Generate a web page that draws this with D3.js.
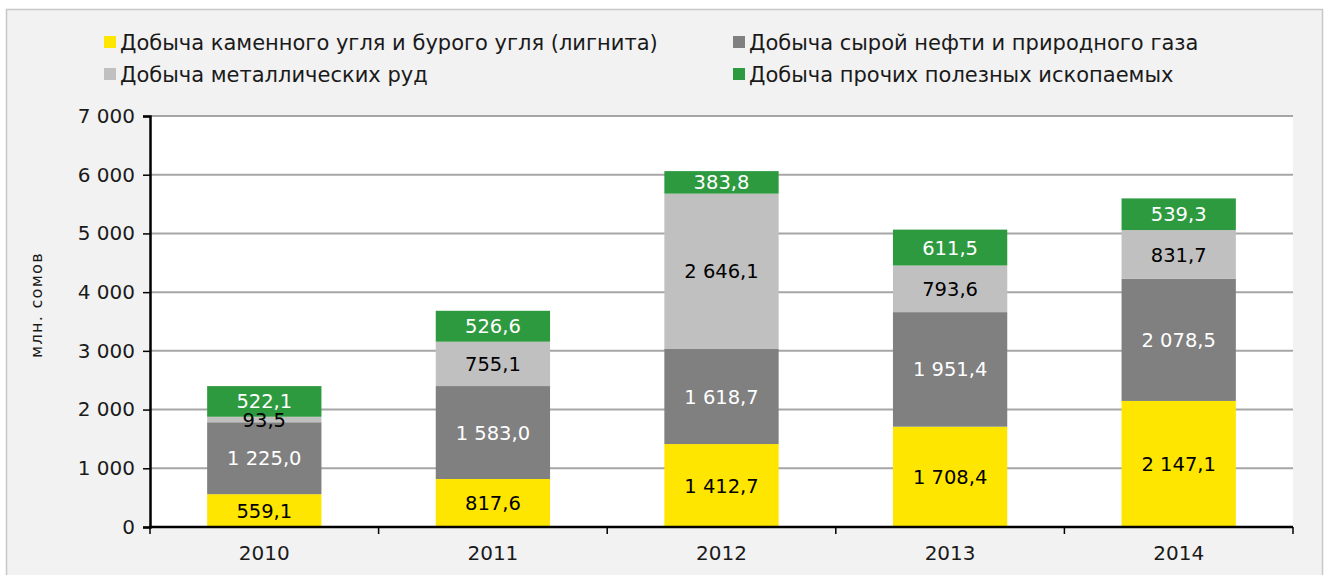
<!DOCTYPE html>
<html>
<head>
<meta charset="utf-8">
<script src="https://cdn.jsdelivr.net/npm/d3@7"></script>
<style>
  body { margin: 0; background: #fff; }
  svg { display: block; font-family: "DejaVu Sans", Verdana, sans-serif; }
</style>
</head>
<body>
<svg id="chart"></svg>
<script>
// data
const years = ["2010", "2011", "2012", "2013", "2014"];
const seriesNames = [
  "Добыча каменного угля и бурого угля (лигнита)",
  "Добыча сырой нефти и природного газа",
  "Добыча металлических руд",
  "Добыча прочих полезных ископаемых"
];
const coal = [559.1, 817.6, 1412.7, 1708.4, 2147.1];
const oilGas = [1225.0, 1583.0, 1618.7, 1951.4, 2078.5];
const metalOres = [93.5, 755.1, 2646.1, 793.6, 831.7];
const otherMinerals = [522.1, 526.6, 383.8, 611.5, 539.3];
const yTicks = [0, 1000, 2000, 3000, 4000, 5000, 6000, 7000];
const yLabel = "млн. сомов";

const colors = ["#ffe600", "#808080", "#c0c0c0", "#2e9a40"];
const labelColors = ["#000", "#fff", "#000", "#fff"];

const width = 1330, height = 575;
const margin = { top: 116, right: 37, bottom: 48, left: 150 };

const svg = d3.select("#chart")
  .attr("width", width)
  .attr("height", height);

// background and frame
svg.append("rect")
  .attr("width", width).attr("height", height)
  .attr("fill", "#fff");
svg.append("rect")
  .attr("x", 6.5).attr("y", 9.5)
  .attr("width", 1316).attr("height", 620)
  .attr("fill", "#f2f2f2")
  .attr("stroke", "#c8c8c8")
  .attr("stroke-width", 1.5);

const ru = d3.formatLocale({
  decimal: ",", thousands: "\u00a0", grouping: [3], currency: ["", ""]
});
const fmtTick = ru.format(",.0f");
const fmtVal = ru.format(",.1f");

const table = years.map((y, i) => ({
  year: y,
  s0: coal[i], s1: oilGas[i], s2: metalOres[i], s3: otherMinerals[i]
}));
const stacked = d3.stack().keys(["s0", "s1", "s2", "s3"])(table);

const x = d3.scaleBand()
  .domain(years)
  .range([margin.left, width - margin.right])
  .paddingInner(0.5)
  .paddingOuter(0.25);

const y = d3.scaleLinear()
  .domain([0, 7000])
  .range([height - margin.bottom, margin.top]);

// plot area
svg.append("rect")
  .attr("x", margin.left).attr("y", margin.top)
  .attr("width", width - margin.right - margin.left)
  .attr("height", y(0) - margin.top)
  .attr("fill", "#fff");

// gridlines
svg.append("g")
  .selectAll("line")
  .data(yTicks.filter(d => d > 0))
  .join("line")
    .attr("x1", margin.left).attr("x2", width - margin.right)
    .attr("y1", d => y(d)).attr("y2", d => y(d))
    .attr("stroke", "#a6a6a6")
    .attr("stroke-width", 2);

// bars
const layers = svg.append("g")
  .selectAll("g")
  .data(stacked)
  .join("g")
    .attr("fill", (d, i) => colors[i]);

layers.selectAll("rect")
  .data(d => d)
  .join("rect")
    .attr("x", d => x(d.data.year))
    .attr("width", x.bandwidth())
    .attr("y", d => y(d[1]))
    .attr("height", d => y(d[0]) - y(d[1]));

// value labels
stacked.forEach((layer, i) => {
  svg.append("g")
    .selectAll("text")
    .data(layer)
    .join("text")
      .attr("x", d => x(d.data.year) + x.bandwidth() / 2)
      .attr("y", d => (y(d[0]) + y(d[1])) / 2)
      .attr("dy", "0.36em")
      .attr("text-anchor", "middle")
      .attr("font-size", 19.5)
      .attr("fill", labelColors[i])
      .text(d => fmtVal(d[1] - d[0]));
});

// axes
const yAxis = d3.axisLeft(y)
  .tickValues(yTicks)
  .tickFormat(fmtTick)
  .tickSize(7)
  .tickPadding(8);

svg.append("g")
  .attr("transform", `translate(${margin.left},0)`)
  .call(yAxis)
  .call(g => g.select(".domain").attr("stroke", "#000").attr("stroke-width", 2.5))
  .call(g => g.selectAll(".tick line").attr("stroke", "#000").attr("stroke-width", 1.5))
  .call(g => g.selectAll(".tick text")
    .attr("font-size", 20)
    .attr("font-family", "DejaVu Sans, sans-serif")
    .attr("fill", "#1a1a1a"));

// x axis: ticks at category boundaries
const xBoundaries = d3.range(years.length + 1).map(i => margin.left + i * (width - margin.right - margin.left) / years.length);

svg.append("line")
  .attr("x1", margin.left - 1).attr("x2", width - margin.right)
  .attr("y1", y(0)).attr("y2", y(0))
  .attr("stroke", "#000").attr("stroke-width", 2.5);

svg.append("g")
  .selectAll("line")
  .data(xBoundaries)
  .join("line")
    .attr("x1", d => d).attr("x2", d => d)
    .attr("y1", y(0)).attr("y2", y(0) + 7)
    .attr("stroke", "#000").attr("stroke-width", 1.5);

svg.append("g")
  .selectAll("text")
  .data(years)
  .join("text")
    .attr("x", d => x(d) + x.bandwidth() / 2)
    .attr("y", y(0) + 33)
    .attr("text-anchor", "middle")
    .attr("font-size", 20)
    .attr("fill", "#1a1a1a")
    .text(d => d);

// y axis title
svg.append("text")
  .attr("transform", `translate(42, 305) rotate(-90)`)
  .attr("text-anchor", "middle")
  .attr("font-size", 16)
  .attr("letter-spacing", 1.3)
  .attr("fill", "#1a1a1a")
  .text(yLabel);

// legend
const legendPos = [
  { x: 104, y: 42 },
  { x: 733, y: 42 },
  { x: 104, y: 74 },
  { x: 733, y: 74 }
];
const legend = svg.append("g")
  .selectAll("g")
  .data(seriesNames)
  .join("g")
    .attr("transform", (d, i) => `translate(${legendPos[i].x},${legendPos[i].y})`);

legend.append("rect")
  .attr("x", 0).attr("y", -6)
  .attr("width", 12).attr("height", 12)
  .attr("fill", (d, i) => colors[i]);

legend.append("text")
  .attr("x", 16)
  .attr("dy", "0.36em")
  .attr("font-size", 21)
  .attr("fill", "#1a1a1a")
  .text(d => d);
</script>
</body>
</html>
